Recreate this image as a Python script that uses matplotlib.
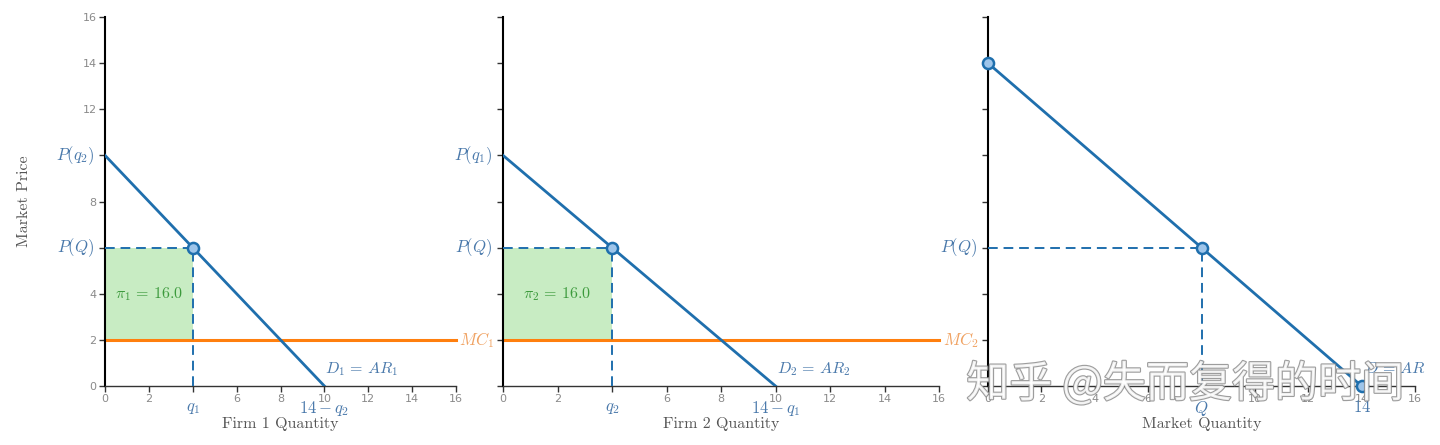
import matplotlib.pyplot as plt
import matplotlib.patheffects as pe

# ---- data ----
mc = 2.0
firm_demand_x = [0, 10]
firm_demand_y = [10, 0]
market_demand_x = [0, 14]
market_demand_y = [14, 0]
q_firm = 4.0
p_eq = 6.0
Q_market = 8.0
profits = [16.0, 16.0]
ticks = [0, 2, 4, 6, 8, 10, 12, 14, 16]

BLUE = "#1f6fad"
LABEL_BLUE = "#4a79ab"
ORANGE = "#ff7f0e"
LABEL_ORANGE = "#f0a262"
GREEN_FILL = "#c8ecc3"
GREEN_TXT = "#3c9a3c"
GRAY = "#8a8a8a"

plt.rcParams["mathtext.fontset"] = "cm"

fig = plt.figure(figsize=(14.4, 4.45), dpi=100)
boxes = [
    [105 / 1440, 1 - 386 / 445, 351 / 1440, 369 / 445],
    [503 / 1440, 1 - 386 / 445, 436 / 1440, 369 / 445],
    [988 / 1440, 1 - 386 / 445, 427 / 1440, 369 / 445],
]
axes = [fig.add_axes(b) for b in boxes]


def base_axes(ax, xlabel, show_yticklabels, skip_x):
    ax.set_xlim(0, 16)
    ax.set_ylim(0, 16)
    for s in ["top", "right"]:
        ax.spines[s].set_visible(False)
    ax.spines["left"].set_color("black")
    ax.spines["left"].set_linewidth(1.5)
    ax.spines["bottom"].set_color("#333333")
    ax.spines["bottom"].set_linewidth(1.0)
    ax.set_xticks(ticks)
    ax.set_xticklabels(["" if t in skip_x else str(t) for t in ticks])
    ax.set_yticks(ticks)
    if show_yticklabels:
        ax.set_yticklabels(["" if t in (6, 10) else str(t) for t in ticks])
    else:
        ax.set_yticklabels([""] * len(ticks))
    ax.tick_params(axis="both", direction="out", length=4, width=1,
                   labelsize=8, labelcolor=GRAY, colors="#333333", pad=2)
    ax.set_xlabel(xlabel, fontfamily="cmr10", fontsize=11.5, color="#555555", labelpad=9)


def blue_xlabel(ax, x, s, dx=0):
    ax.annotate(s, xy=(x, 0), xycoords=("data", "axes fraction"),
                xytext=(dx, -9), textcoords="offset points",
                ha="center", va="top", fontsize=12, color=LABEL_BLUE,
                annotation_clip=False)


def blue_ylabel(ax, y, s):
    ax.annotate(s, xy=(0, y), xycoords=("axes fraction", "data"),
                xytext=(-8, 0), textcoords="offset points",
                ha="right", va="center", fontsize=12, color=LABEL_BLUE,
                annotation_clip=False)


# ---- firm panels ----
for i, ax in enumerate(axes[:2]):
    own = i + 1
    other = 2 - i
    base_axes(ax, f"Firm {own} Quantity", own == 1, skip_x=[4])
    ax.fill_between([0, q_firm], mc, p_eq, color=GREEN_FILL, lw=0, zorder=1)
    ax.plot([0, 16], [mc, mc], color=ORANGE, lw=2.2, zorder=2, clip_on=False)
    ax.text(16.15, mc, f"$MC_{own}$", color=LABEL_ORANGE, fontsize=12,
            ha="left", va="center", clip_on=False)
    ax.plot([0, q_firm], [p_eq, p_eq], ls=(0, (5, 3)), color=BLUE, lw=1.4, zorder=3)
    ax.plot([q_firm, q_firm], [0, p_eq], ls=(0, (5, 3)), color=BLUE, lw=1.4, zorder=3)
    ax.plot(firm_demand_x, firm_demand_y, color=BLUE, lw=2.0, zorder=4)
    ax.plot([q_firm], [p_eq], "o", ms=8, mfc="#9ec5ea", mec=BLUE, mew=1.8,
            zorder=5, clip_on=False)
    ax.text(q_firm / 2, (mc + p_eq) / 2, f"$\\pi_{own}\\,=\\,{profits[i]:.1f}$",
            color=GREEN_TXT, fontsize=11.5, ha="center", va="center", zorder=6)
    ax.text(firm_demand_x[1] + 0.05, 0.75, f"$D_{own}\\,=\\,AR_{own}$",
            color=LABEL_BLUE, fontsize=11.5, ha="left", va="center")
    blue_xlabel(ax, q_firm, f"$q_{own}$")
    blue_xlabel(ax, firm_demand_x[1], f"$14 - q_{other}$")
    blue_ylabel(ax, p_eq, "$P(Q)$")
    blue_ylabel(ax, firm_demand_y[0], f"$P(q_{other})$")

axes[0].set_ylabel("Market Price", fontfamily="cmr10", fontsize=11.5,
                   color="#555555", labelpad=37)

# ---- market panel ----
ax = axes[2]
base_axes(ax, "Market Quantity", False, skip_x=[8])
ax.plot([0, Q_market], [p_eq, p_eq], ls=(0, (5, 3)), color=BLUE, lw=1.4, zorder=3)
ax.plot([Q_market, Q_market], [0, p_eq], ls=(0, (5, 3)), color=BLUE, lw=1.4, zorder=3)
ax.plot(market_demand_x, market_demand_y, color=BLUE, lw=2.0, zorder=4)
ax.plot([market_demand_x[0], Q_market, market_demand_x[1]],
        [market_demand_y[0], p_eq, market_demand_y[1]], "o", ms=8,
        mfc="#9ec5ea", mec=BLUE, mew=1.8, ls="none", zorder=5, clip_on=False)
ax.text(market_demand_x[1] + 0.1, 0.75, "$D\\,=\\,AR$", color=LABEL_BLUE,
        fontsize=11.5, ha="left", va="center")
blue_xlabel(ax, Q_market, "$Q$")
blue_xlabel(ax, market_demand_x[1], "$14$")
blue_ylabel(ax, p_eq, "$P(Q)$")

# watermark
fig.text(1185 / 1440, 1 - 385 / 445, "知乎 @失而复得的时间", fontsize=31,
         family=["Noto Sans CJK SC", "DejaVu Sans"], color="white", alpha=0.85,
         ha="center", va="center",
         path_effects=[pe.withStroke(linewidth=1.6, foreground="#8c8c8c")])

fig.savefig("out.png", dpi=100)
